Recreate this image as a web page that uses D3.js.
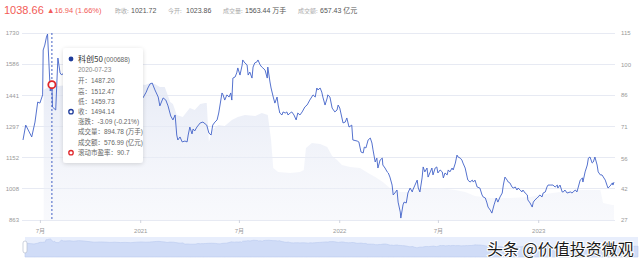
<!DOCTYPE html>
<html><head><meta charset="utf-8">
<script src="https://cdn.jsdelivr.net/npm/d3@7"></script>
<style>
html,body{margin:0;padding:0;background:#fff;}
svg{display:block;font-family:"Liberation Sans","Noto Sans CJK SC",sans-serif;}
</style></head><body>
<svg id="c" width="640" height="260"></svg>
<script>
// ---------- data ----------
const dates = [
"2020-05-31","2020-06-05","2020-06-16","2020-06-22","2020-06-27","2020-07-01","2020-07-06","2020-07-07","2020-07-10","2020-07-13",
"2020-07-15","2020-07-20","2020-07-22","2020-07-23","2020-07-24","2020-07-30","2020-08-03","2020-08-07","2020-08-10","2020-08-18",
"2020-08-25","2020-09-03","2020-09-11","2020-09-21","2020-09-30","2020-10-12","2020-10-19","2020-10-28","2020-11-06","2020-11-16",
"2020-11-24","2020-12-04","2020-12-14","2020-12-22","2020-12-31",
"2021-01-06","2021-01-12","2021-01-15","2021-01-19","2021-01-23","2021-01-28","2021-02-03","2021-02-06","2021-02-12","2021-02-17",
"2021-02-21","2021-02-26","2021-03-02","2021-03-06","2021-03-09","2021-03-11","2021-03-15","2021-03-19","2021-03-24","2021-03-28",
"2021-03-30","2021-04-02","2021-04-06","2021-04-08","2021-04-11","2021-04-15","2021-04-21","2021-04-26","2021-05-03","2021-05-07",
"2021-05-11","2021-05-14","2021-05-18","2021-05-22","2021-05-25","2021-05-31","2021-06-02","2021-06-05","2021-06-09","2021-06-13",
"2021-06-16","2021-06-18","2021-06-20","2021-06-24","2021-06-27","2021-06-29","2021-07-03","2021-07-07","2021-07-08","2021-07-12",
"2021-07-16","2021-07-18","2021-07-21","2021-07-25","2021-07-27","2021-07-30","2021-08-03","2021-08-05","2021-08-09","2021-08-12",
"2021-08-14","2021-08-18","2021-08-22","2021-08-23","2021-08-27","2021-08-29","2021-09-02","2021-09-05","2021-09-09","2021-09-11",
"2021-09-14","2021-09-18","2021-09-20","2021-09-24","2021-09-27","2021-09-29","2021-10-03","2021-10-06","2021-10-10","2021-10-14",
"2021-10-17","2021-10-21","2021-10-25","2021-10-30","2021-11-03","2021-11-05","2021-11-08","2021-11-14","2021-11-18","2021-11-21",
"2021-11-23","2021-11-27","2021-11-30","2021-12-02","2021-12-06","2021-12-10","2021-12-11","2021-12-15","2021-12-19","2021-12-24",
"2021-12-28","2021-12-30",
"2022-01-02","2022-01-08","2022-01-12","2022-01-15","2022-01-19","2022-01-24","2022-01-26","2022-02-03","2022-02-06","2022-02-10",
"2022-02-14","2022-02-16","2022-02-19","2022-02-23","2022-02-27","2022-03-02","2022-03-04","2022-03-08","2022-03-11","2022-03-13",
"2022-03-17","2022-03-21","2022-03-22","2022-03-26","2022-03-30","2022-04-01","2022-04-04","2022-04-08","2022-04-10","2022-04-13",
"2022-04-17","2022-04-19","2022-04-23","2022-04-24","2022-04-28","2022-04-30","2022-05-04","2022-05-07","2022-05-11","2022-05-15",
"2022-05-16","2022-05-20","2022-05-24","2022-05-26","2022-05-29","2022-06-02","2022-06-04","2022-06-07","2022-06-11","2022-06-13",
"2022-06-17","2022-06-20","2022-06-22","2022-06-26","2022-06-29","2022-07-01","2022-07-05","2022-07-09","2022-07-11","2022-07-14",
"2022-07-18","2022-07-20","2022-07-23","2022-07-27","2022-07-29","2022-08-02","2022-08-05","2022-08-07","2022-08-11","2022-08-14",
"2022-08-16","2022-08-20","2022-08-24","2022-08-25","2022-08-29","2022-09-02","2022-09-04","2022-09-07","2022-09-11","2022-09-16",
"2022-09-20","2022-09-22","2022-09-26","2022-09-29","2022-10-01","2022-10-05","2022-10-08","2022-10-12","2022-10-16","2022-10-19",
"2022-10-23","2022-10-27","2022-10-29","2022-11-01","2022-11-05","2022-11-07","2022-11-10","2022-11-14","2022-11-16","2022-11-20",
"2022-11-23","2022-11-25","2022-11-29","2022-12-02","2022-12-04","2022-12-08","2022-12-12","2022-12-13","2022-12-17","2022-12-21",
"2022-12-23","2022-12-26","2022-12-30",
"2023-01-01","2023-01-04","2023-01-08","2023-01-10","2023-01-14","2023-01-17","2023-01-19","2023-01-23","2023-01-28","2023-02-01",
"2023-02-05","2023-02-06","2023-02-10","2023-02-14","2023-02-16","2023-02-19","2023-02-23","2023-03-01","2023-03-04","2023-03-06",
"2023-03-10","2023-03-13","2023-03-15","2023-03-19","2023-03-23","2023-03-24","2023-03-28","2023-04-01","2023-04-03","2023-04-06",
"2023-04-10","2023-04-12","2023-04-15","2023-04-19","2023-04-21","2023-04-25","2023-04-28","2023-05-04","2023-05-07","2023-05-09",
"2023-05-13","2023-05-17","2023-05-18","2023-05-20"
];
const closes = [
1234,1303,1248,1317,1410,1405,1443,1651,1674,1711,
1725,1461,1497.23,1494.14,1387,1373,1614,1545,1535,1558,
1512,1568,1535,1475,1419,1443,1429,1396,1419,1382,
1401,1373,1419,1443,1419,
1429,1456,1475,1494,1498,1466,1433,1392,1429,1419,
1392,1345,1327,1350,1257,1234,1248,1225,1229,1225,
1257,1294,1262,1285,1276,1294,1313,1317,1303,1266,
1257,1303,1317,1327,1359,1452,1443,1419,1443,1433,
1452,1419,1521,1526,1545,1568,1535,1582,1605,1591,
1582,1535,1549,1521,1572,1591,1596,1605,1582,1572,
1568,1558,1521,1572,1503,1475,1433,1405,1433,1396,
1359,1350,1364,1359,1364,1350,1359,1364,1350,1327,
1359,1350,1364,1387,1396,1405,1419,1443,1433,1475,
1466,1475,1456,1433,1396,1429,1443,1433,1382,1364,
1373,1396,
1382,1313,1317,1336,1294,1303,1234,1229,1225,1178,
1174,1201,1197,1234,1243,1220,1188,1132,1150,1104,
1141,1150,1118,1104,1086,1081,1062,1025,979,988,
1002,946,900,872,933,946,942,988,1011,993,
1002,1025,1048,1011,993,1058,1109,1086,1104,1062,
1086,1104,1072,1104,1109,1081,1095,1086,1058,1081,
1072,1095,1086,1104,1095,1127,1164,1155,1150,1141,
1127,1104,1058,1048,1039,1048,1039,1048,1016,1011,
979,970,965,942,923,909,895,933,965,946,
970,988,1025,1062,1048,1039,1035,1016,1011,1016,
1002,1011,1002,993,1002,988,979,956,942,923,
946,956,965,
970,979,970,988,993,1016,1025,1025,1025,1016,
1025,1011,1025,993,993,1002,988,993,988,993,
1002,993,1011,1048,1058,1039,1086,1118,1150,1155,
1127,1132,1155,1118,1086,1072,1072,1048,1025,1011,
1021,1035,1025,1038.66
];
// rolling P/E (right axis)
const peDates = [
"2020-07-08","2020-07-23","2020-08-03","2020-08-25","2020-09-12","2020-10-01","2020-10-19","2020-11-06","2020-11-25","2020-12-13",
"2021-01-01","2021-01-10","2021-01-19","2021-01-28","2021-02-06","2021-02-15","2021-02-25","2021-03-02","2021-03-09","2021-03-20",
"2021-04-02","2021-04-11","2021-04-21","2021-04-30","2021-05-03","2021-05-07","2021-05-13","2021-05-24","2021-06-05","2021-06-18",
"2021-06-29","2021-07-12","2021-07-31","2021-08-12","2021-08-23","2021-08-29","2021-09-02","2021-09-11","2021-10-03","2021-10-21",
"2021-10-28","2021-11-01","2021-11-12","2021-11-27","2021-12-10","2021-12-19","2021-12-28","2022-01-06","2022-01-21","2022-02-08",
"2022-02-23","2022-03-08","2022-03-22","2022-04-04","2022-04-23","2022-05-15","2022-05-29","2022-07-05","2022-08-02","2022-08-20",
"2022-09-07","2022-10-05","2022-11-10","2022-12-17","2023-01-14","2023-02-10","2023-03-10","2023-04-06","2023-04-25","2023-04-30",
"2023-05-17","2023-05-20"
];
const peValues = [
88.2,90.7,90.1,90.5,89,88.2,87.2,88.2,89,90.1,
91,90.5,91.5,91,89.6,89.6,82.5,81.6,76.4,75.5,
79.7,78.8,81.6,82.1,82.1,63.7,69.4,71.7,71.2,74.1,
75.5,76.4,75.9,77.4,76.4,64.6,51.5,49.6,49.1,49.6,
50.5,60.9,63.2,62.8,61.4,57.1,55.2,52.9,51.9,51.5,
49.1,47.2,44.9,42.1,40.2,40.2,41.6,42.1,41.1,40.2,
38.3,37.4,37.4,37.8,39.2,40.2,41.1,41.1,41.1,35.0,
34.1,34.1
];
const leftTicks = [863,1008,1152,1297,1441,1586,1730];
const rightTicks = [27,42,56,71,86,100,115];
const xTickDates = ["2020-07-01","2021-01-01","2021-07-01","2022-01-01","2022-07-01","2023-01-01"];
const xTickLabels = ["7月","2021","7月","2022","7月","2023"];

const lastPrice = "1038.66";
const lastChange = "▲16.94 (1.66%)";
const headerLabels = ["昨收:","今开:","成交量:","成交额:"];
const headerValues = ["1021.72","1023.86","1563.44 万手","657.43 亿元"];

const tipDate = "2020-07-23";
const tipTitle = "科创50";
const tipCode = "(000688)";
const tipRows = ["开：1487.20","高：1512.47","低：1459.73","收：1494.14","涨跌：-3.09 (-0.21%)","成交量：894.78 (万手)","成交额：576.99 (亿元)","滚动市盈率：90.7"];
const tipMarkers = [null,null,null,"close",null,null,null,"pe"];
const tipPE = 90.7;
const watermark = "头条 @价值投资微观";

// ---------- chart ----------
const parse = d3.timeParse("%Y-%m-%d");
const series = dates.map((d,i)=>({date:parse(d), v:closes[i]}));
const pe = peDates.map((d,i)=>({date:parse(d), v:peValues[i]}));

const svg = d3.select("#c");
const yTop = 33, yBot = 220, gridL = 22, gridR = 615;

const x = d3.scaleTime().domain(d3.extent(series, d=>d.date)).range([23, 614]);
const yL = d3.scaleLinear().domain([863,1730]).range([yBot, yTop]);
const yR = d3.scaleLinear().domain([27,115]).range([yBot, yTop]);

const defs = svg.append("defs");
const g1 = defs.append("linearGradient").attr("id","peFill").attr("gradientUnits","userSpaceOnUse")
  .attr("x1",0).attr("x2",0).attr("y1",yTop).attr("y2",yBot);
g1.append("stop").attr("offset","0%").attr("stop-color","#dce2f2").attr("stop-opacity",0.9);
g1.append("stop").attr("offset","100%").attr("stop-color","#f0f2f9").attr("stop-opacity",0.45);
const f = defs.append("filter").attr("id","sh").attr("x","-20%").attr("y","-20%").attr("width","140%").attr("height","140%");
f.append("feDropShadow").attr("dx",0).attr("dy",1).attr("stdDeviation",2).attr("flood-color","#000").attr("flood-opacity",0.15);

// gridlines
svg.append("g").selectAll("line").data(leftTicks).join("line")
  .attr("x1",gridL).attr("x2",gridR).attr("y1",d=>yL(d)).attr("y2",d=>yL(d))
  .attr("stroke","#e7eaf3").attr("stroke-width",1).attr("shape-rendering","crispEdges");

// PE area
svg.append("path").datum(pe)
  .attr("d", d3.area().x(d=>x(d.date)).y0(yBot).y1(d=>yR(d.v)))
  .attr("fill","url(#peFill)");

// close line
svg.append("path").datum(series)
  .attr("d", d3.line().x(d=>x(d.date)).y(d=>yL(d.v)))
  .attr("fill","none").attr("stroke","#4262c8").attr("stroke-width",0.9).attr("stroke-linejoin","round");

// left axis
const axL = svg.append("g").attr("transform",`translate(${gridL},0)`)
  .call(d3.axisLeft(yL).tickValues(leftTicks).tickSize(0).tickPadding(3).tickFormat(d3.format("d")));
axL.select(".domain").remove();
axL.selectAll("text").attr("fill","#999").attr("font-size",6).attr("font-family","Liberation Sans, sans-serif");

// right axis
const axR = svg.append("g").attr("transform",`translate(${gridR},0)`)
  .call(d3.axisRight(yR).tickValues(rightTicks).tickSize(0).tickPadding(6).tickFormat(d3.format("d")));
axR.select(".domain").remove();
axR.selectAll("text").attr("fill","#999").attr("font-size",6).attr("font-family","Liberation Sans, sans-serif");

// x axis
const axX = svg.append("g").attr("transform",`translate(0,${yBot})`)
  .call(d3.axisBottom(x).tickValues(xTickDates.map(parse)).tickSize(3).tickPadding(6)
     .tickFormat((d,i)=>xTickLabels[i]));
axX.select(".domain").remove();
axX.selectAll("line").attr("stroke","#d0d4de");
axX.selectAll("text").attr("fill","#999").attr("font-size",6).attr("font-family","Liberation Sans, Noto Sans CJK SC, sans-serif");

// crosshair + marker
const tipD = parse(tipDate);
const cx = x(tipD);
svg.append("line").attr("x1",cx).attr("x2",cx).attr("y1",yTop).attr("y2",yBot)
  .attr("stroke","#2f4fc0").attr("stroke-width",0.9).attr("stroke-dasharray","2,2");
svg.append("circle").attr("cx",cx).attr("cy",yR(tipPE)).attr("r",3.6)
  .attr("fill","#fff").attr("stroke","#e0262b").attr("stroke-width",1.8);

// header
svg.append("text").attr("x",4).attr("y",14).attr("font-size",11).attr("fill","#f25b57").text(lastPrice);
svg.append("text").attr("x",47).attr("y",13).attr("font-size",7.5).attr("fill","#f25b57").text(lastChange);
const hx = [[115,131],[168,186],[223,245],[298,320]];
headerLabels.forEach((t,i)=>{
  svg.append("text").attr("x",hx[i][0]).attr("y",12.5).attr("font-size",6).attr("fill","#aaa")
    .attr("font-family","Noto Sans CJK SC, sans-serif").text(t);
  svg.append("text").attr("x",hx[i][1]).attr("y",12.5).attr("font-size",7).attr("fill","#555").text(headerValues[i]);
});

// tooltip
const tip = svg.append("g");
tip.append("rect").attr("x",63).attr("y",48).attr("width",80).attr("height",115).attr("rx",3)
  .attr("fill","#fff").attr("filter","url(#sh)");
tip.append("circle").attr("cx",71).attr("cy",59).attr("r",2.4).attr("fill","#1f3c9c");
tip.append("text").attr("x",78).attr("y",62).attr("font-size",8).attr("fill","#333")
  .attr("font-family","Noto Sans CJK SC, sans-serif").text(tipTitle);
tip.append("text").attr("x",104).attr("y",62).attr("font-size",6.5).attr("fill","#666").text(tipCode);
tip.append("text").attr("x",78).attr("y",72).attr("font-size",6.5).attr("fill","#888").text(tipDate);
const rowY = [83,94,104,114,124,134,145,155];
tip.selectAll("text.row").data(tipRows).join("text").attr("class","row")
  .attr("x",78).attr("y",(d,i)=>rowY[i]).attr("font-size",6.5).attr("fill","#666")
  .attr("font-family","Liberation Sans, Noto Sans CJK SC, sans-serif").text(d=>d);
tipMarkers.forEach((m,i)=>{
  if(!m) return;
  tip.append("circle").attr("cx",71).attr("cy",rowY[i]-2.3).attr("r",2.2).attr("fill","#fff")
    .attr("stroke", m==="pe" ? "#e0262b" : "#1f3c9c").attr("stroke-width",1.3);
});

// data zoom slider
const sx = d3.scaleTime().domain(x.domain()).range([25, 638]);
const sy = d3.scaleLinear().domain([0, d3.max(closes)]).range([257, 239]);
svg.append("rect").attr("x",25).attr("y",237).attr("width",613).attr("height",20).attr("fill","#e8eefc");
svg.append("path").datum(series)
  .attr("d", d3.area().x(d=>sx(d.date)).y0(257).y1(d=>sy(d.v)))
  .attr("fill","#d0dcf7").attr("stroke","#b9c9ef").attr("stroke-width",0.6);
svg.append("rect").attr("x",23).attr("y",241).attr("width",4).attr("height",12).attr("rx",2)
  .attr("fill","#fff").attr("stroke","#b8c0d0").attr("stroke-width",0.7);

// watermark
svg.append("text").attr("x",487).attr("y",254.5).attr("font-size",16)
  .attr("font-family","Noto Sans CJK SC, sans-serif").attr("fill","#1a1a1a")
  .attr("stroke","#fff").attr("stroke-width",2).attr("paint-order","stroke").text(watermark);
</script>
</body></html>
